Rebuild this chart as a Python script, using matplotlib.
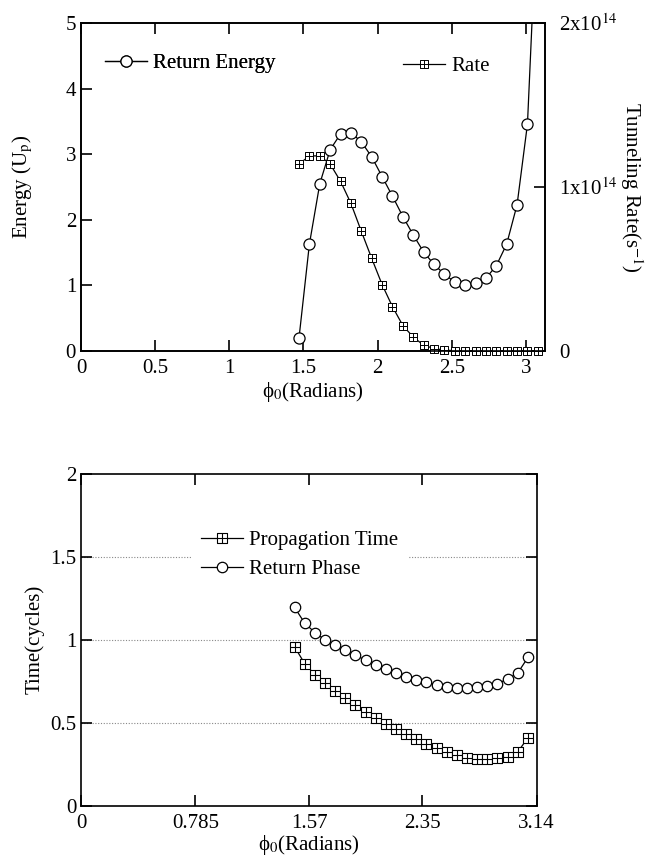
import matplotlib
matplotlib.use('Agg')
import matplotlib.pyplot as plt
from matplotlib.path import Path

plt.rcParams['font.family'] = ['Liberation Serif', 'DejaVu Serif']
plt.rcParams['mathtext.fontset'] = 'stix'
plt.rcParams['font.size'] = 15

# fase inicial (rad), mesma grade para todas as curvas
phi0 = [1.47, 1.54, 1.61, 1.68, 1.75, 1.82, 1.89, 1.96, 2.03, 2.10, 2.17, 2.24,
        2.31, 2.38, 2.45, 2.52, 2.59, 2.66, 2.73, 2.80, 2.87, 2.94, 3.01, 3.08]

return_energy = [0.20, 1.63, 2.55, 3.07, 3.31, 3.33, 3.19, 2.96, 2.66, 2.36, 2.05, 1.77,
                 1.51, 1.32, 1.17, 1.05, 1.01, 1.03, 1.11, 1.30, 1.63, 2.23, 3.46, 7.0]

rate = [1.14e14, 1.19e14, 1.19e14, 1.14e14, 1.035e14, 0.90e14, 0.73e14, 0.565e14,
        0.405e14, 0.27e14, 0.155e14, 0.085e14, 0.035e14, 0.015e14, 0.005e14, 0.002e14,
        0.001e14, 0, 0, 0, 0, 0, 0, 0]

return_phase = [1.194, 1.10, 1.043, 0.999, 0.967, 0.937, 0.907, 0.876, 0.849, 0.825, 0.80, 0.777,
                0.759, 0.744, 0.729, 0.714, 0.708, 0.708, 0.718, 0.724, 0.736, 0.763, 0.80, 0.893]

prop_time = [0.957, 0.856, 0.79, 0.738, 0.694, 0.646, 0.604, 0.564, 0.528, 0.494, 0.462, 0.43,
             0.40, 0.374, 0.348, 0.325, 0.305, 0.289, 0.28, 0.28, 0.285, 0.295, 0.325, 0.409]

bottom_xticks = [0, 0.785, 1.57, 2.35, 3.14]
bottom_xlabels = ['0', '0.785', '1.57', '2.35', '3.14']

# marcador quadrado com cruz (⊞)
sq_cross = Path([(-1, -1), (1, -1), (1, 1), (-1, 1), (-1, -1),
                 (0, -1), (0, 1), (-1, 0), (1, 0)],
                [Path.MOVETO, Path.LINETO, Path.LINETO, Path.LINETO, Path.CLOSEPOLY,
                 Path.MOVETO, Path.LINETO, Path.MOVETO, Path.LINETO])

tick_kw = dict(direction='in', length=8, width=1.2, labelsize=15)
xlabel_txt = '\u03d5$_0$(Radians)'

fig = plt.figure(figsize=(6.53, 8.56), dpi=100)

# ---- painel superior ----
ax1 = fig.add_axes([0.124, 0.590, 0.711, 0.383])
ax2 = ax1.twinx()

l_en, = ax1.plot(phi0, return_energy, color='black', lw=0.9, marker='o', ms=8,
                 mfc='white', mec='black', mew=0.9)
l_rate, = ax2.plot(phi0, rate, color='black', lw=0.9, marker=sq_cross, ms=5.5,
                   mfc='white', mec='black', mew=0.7, clip_on=False)

ax1.set_xlim(0, 3.13)
ax1.set_ylim(0, 5)
ax2.set_ylim(0, 2e14)
ax1.set_xticks([0, 0.5, 1, 1.5, 2, 2.5, 3])
ax1.set_xticklabels(['0', '0.5', '1', '1.5', '2', '2.5', '3'])
ax1.set_yticks([0, 1, 2, 3, 4, 5])
ax2.set_yticks([0, 1e14, 2e14])
ax2.set_yticklabels(['0', r'1x10$^{14}$', r'2x10$^{14}$'])
ax1.tick_params(axis='x', top=True, **tick_kw)
ax1.tick_params(axis='y', right=False, **tick_kw)
ax2.tick_params(axis='y', **tick_kw)
ax2.tick_params(axis='y', pad=10)
ax1.tick_params(axis='x', pad=6)
for ax in (ax1, ax2):
    for s in ax.spines.values():
        s.set_linewidth(1.2)

ax1.set_xlabel(xlabel_txt, fontsize=15, labelpad=1)
ax1.set_ylabel(r'Energy (U$_\mathrm{p}$)', fontsize=15, labelpad=22)
ax2.set_ylabel(r'Tunneling Rate(s$^{-1}$)', fontsize=15, rotation=270, labelpad=20)

leg1 = ax1.legend([l_en], ['Return Energy'], loc='center left', bbox_to_anchor=(0.052, 0.878),
                  frameon=False, borderpad=0, borderaxespad=0, handlelength=2.0,
                  handletextpad=0.3, fontsize=15)
ax1.add_artist(leg1)
ax2.legend([l_rate], ['Rate'], loc='center left', bbox_to_anchor=(0.694, 0.868),
           frameon=False, borderpad=0, borderaxespad=0, handlelength=2.0,
           handletextpad=0.3, fontsize=15)

# ---- painel inferior ----
ax3 = fig.add_axes([0.1248, 0.0587, 0.697, 0.388])
for yv in (0.5, 1.0, 1.5):
    ax3.axhline(yv, color='#888888', lw=0.8, ls=(0, (1, 1.5)), zorder=0)

l_pt, = ax3.plot(phi0, prop_time, color='black', lw=0.9, marker=sq_cross, ms=7,
                 mfc='white', mec='black', mew=0.8)
l_rp, = ax3.plot(phi0, return_phase, color='black', lw=0.9, marker='o', ms=7.5,
                 mfc='white', mec='black', mew=0.9)

ax3.set_xlim(0, 3.14)
ax3.set_ylim(0, 2)
ax3.set_xticks(bottom_xticks)
ax3.set_xticklabels(bottom_xlabels)
ax3.set_yticks([0, 0.5, 1, 1.5, 2])
ax3.set_yticklabels(['0', '0.5', '1', '1.5', '2'])
ax3.tick_params(axis='both', top=True, right=True, **tick_kw)
ax3.tick_params(axis='x', pad=6)
for s in ax3.spines.values():
    s.set_linewidth(1.2)

ax3.set_xlabel(xlabel_txt, fontsize=15, labelpad=0)
ax3.set_ylabel('Time(cycles)', fontsize=15, labelpad=4)

ax3.legend([l_pt, l_rp], ['Propagation Time', 'Return Phase'], loc='upper left',
           bbox_to_anchor=(0.24, 0.86), frameon=True, facecolor='white',
           edgecolor='none', framealpha=1, fancybox=False, borderpad=0.5,
           borderaxespad=0, handlelength=2.0, handletextpad=0.3,
           labelspacing=0.45, fontsize=15)

fig.savefig('out.png', dpi=100)
